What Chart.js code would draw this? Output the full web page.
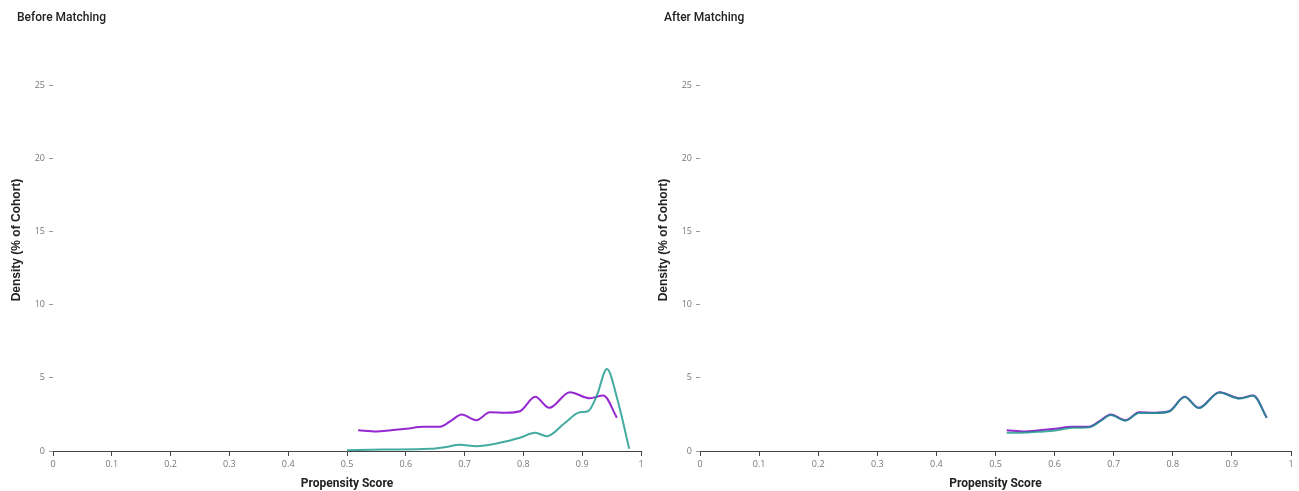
<!DOCTYPE html>
<html>
<head>
<meta charset="utf-8">
<script src="https://cdn.jsdelivr.net/npm/chart.js@4.4.1/dist/chart.umd.min.js"></script>
<style>
  html, body { margin: 0; padding: 0; background: #fff; }
  body { width: 1299px; height: 491px; position: relative; overflow: hidden; font-family: Roboto, sans-serif; }
  .panel { position: absolute; top: 0; height: 491px; }
  .ttl { position: absolute; top: 10px; font: 500 12px Roboto, sans-serif; color: #222; }
</style>
</head>
<body>
<div class="panel" style="left:0;width:649px;"><canvas id="c1" width="649" height="491"></canvas></div>
<div class="panel" style="left:647px;width:652px;"><canvas id="c2" width="652" height="491"></canvas></div>
<div class="ttl" style="left:17px;">Before Matching</div>
<div class="ttl" style="left:664px;">After Matching</div>
<script>
// ---- data ----
const panelTitles = ["Before Matching", "After Matching"];
const xTitle = "Propensity Score";
const yTitle = "Density (% of Cohort)";
const xTicks = [0, 0.1, 0.2, 0.3, 0.4, 0.5, 0.6, 0.7, 0.8, 0.9, 1];
const yTicks = [0, 5, 10, 15, 20, 25];

const beforePurpleX = [0.519, 0.550, 0.575, 0.601, 0.630, 0.658, 0.678, 0.695, 0.720, 0.743, 0.770, 0.794, 0.820, 0.844, 0.879, 0.913, 0.936, 0.959];
const beforePurpleY = [1.42, 1.33, 1.42, 1.52, 1.65, 1.65, 2.10, 2.49, 2.10, 2.65, 2.62, 2.72, 3.70, 2.95, 4.02, 3.60, 3.79, 2.27];
const beforeTealX = [0.500, 0.560, 0.641, 0.665, 0.692, 0.720, 0.760, 0.794, 0.820, 0.840, 0.870, 0.896, 0.910, 0.925, 0.942, 0.960, 0.980];
const beforeTealY = [0.05, 0.10, 0.15, 0.25, 0.42, 0.33, 0.56, 0.90, 1.24, 1.01, 1.90, 2.65, 2.72, 3.80, 5.60, 3.50, 0.15];

const afterPurpleX = [0.519, 0.550, 0.575, 0.601, 0.630, 0.658, 0.678, 0.695, 0.720, 0.743, 0.770, 0.794, 0.820, 0.844, 0.879, 0.913, 0.936, 0.959];
const afterPurpleY = [1.42, 1.33, 1.42, 1.52, 1.65, 1.65, 2.10, 2.49, 2.10, 2.65, 2.62, 2.72, 3.70, 2.95, 4.02, 3.60, 3.79, 2.27];
const afterTealX = [0.519, 0.550, 0.575, 0.601, 0.630, 0.658, 0.678, 0.695, 0.720, 0.743, 0.770, 0.794, 0.820, 0.844, 0.879, 0.913, 0.936, 0.959];
const afterTealY = [1.24, 1.26, 1.32, 1.40, 1.58, 1.62, 2.05, 2.46, 2.07, 2.60, 2.60, 2.70, 3.68, 2.93, 4.00, 3.58, 3.77, 2.27];

const PURPLE = "rgb(150,40,210)";
const TEAL = "rgba(20,150,135,0.8)";

function pts(xs, ys) { return xs.map((x, i) => ({ x: x, y: ys[i] })); }

const yTitlePlugin = {
  id: 'yTitlePlugin',
  afterDraw(chart) {
    const ctx = chart.ctx;
    ctx.save();
    ctx.translate(17, 240);
    ctx.rotate(-Math.PI / 2);
    ctx.font = "bold 12px 'Liberation Sans', Arial, sans-serif";
    ctx.fillStyle = "#222";
    ctx.textAlign = "center";
    ctx.textBaseline = "middle";
    ctx.fillText(yTitle, 0, 0);
    ctx.restore();
  }
};

function makeChart(id, purple, teal, yW) {
  new Chart(document.getElementById(id), {
    type: 'line',
    data: {
      datasets: [
        { data: teal, borderColor: TEAL, borderWidth: 2, pointRadius: 0, cubicInterpolationMode: 'monotone', fill: false, order: 0 },
        { data: purple, borderColor: PURPLE, borderWidth: 2, pointRadius: 0, cubicInterpolationMode: 'monotone', fill: false, order: 1 }
      ]
    },
    options: {
      responsive: false,
      animation: false,
      layout: { padding: { top: 85, right: 8, left: 0, bottom: 0 } },
      plugins: { legend: { display: false }, tooltip: { enabled: false }, title: { display: false } },
      scales: {
        x: {
          type: 'linear', min: 0, max: 1,
          afterBuildTicks(s) { s.ticks = xTicks.map(v => ({ value: v })); },
          afterFit(s) { s.height = 40; },
          border: { display: true, color: '#444', width: 1 },
          grid: { drawOnChartArea: false, drawTicks: true, tickLength: 5, color: '#444' },
          ticks: { color: '#777', font: { size: 9, family: "'Open Sans', sans-serif" }, padding: 3, maxRotation: 0,
                   callback: v => String(v) },
          title: { display: true, text: xTitle, color: '#222', font: { size: 12, weight: 'bold', family: "Roboto, sans-serif" }, padding: { top: 2, bottom: 0 } }
        },
        y: {
          min: 0, max: 25,
          afterBuildTicks(s) { s.ticks = yTicks.map(v => ({ value: v })); },
          afterFit(s) { s.width = yW; },
          border: { display: false },
          grid: { drawOnChartArea: false, drawTicks: true, tickLength: 4, color: '#999' },
          ticks: { color: '#777', font: { size: 9, family: "'Open Sans', sans-serif" }, padding: 4 }
        }
      }
    },
    plugins: [yTitlePlugin]
  });
}

makeChart('c1', pts(beforePurpleX, beforePurpleY), pts(beforeTealX, beforeTealY), 53);
makeChart('c2', pts(afterPurpleX, afterPurpleY), pts(afterTealX, afterTealY), 53);
</script>
</body>
</html>
